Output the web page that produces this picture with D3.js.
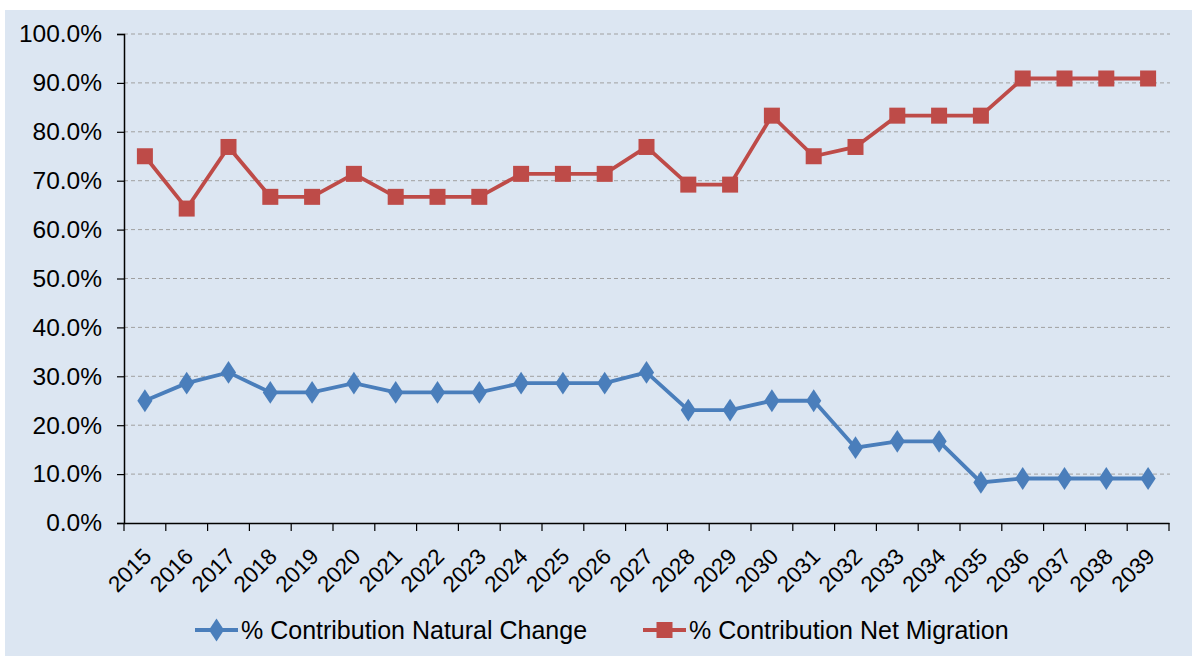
<!DOCTYPE html>
<html><head><meta charset="utf-8">
<script src="https://cdn.jsdelivr.net/npm/d3@7"></script>
<style>html,body{margin:0;padding:0;background:#fff;} text{font-family:"Liberation Sans",Arial,sans-serif;}</style>
</head><body>
<svg id="c" width="1196" height="656"></svg>
<script>
const years = ["2015","2016","2017","2018","2019","2020","2021","2022","2023","2024","2025","2026","2027","2028","2029","2030","2031","2032","2033","2034","2035","2036","2037","2038","2039"];
const naturalChange = [25.0,28.6,30.8,26.7,26.7,28.6,26.7,26.7,26.7,28.6,28.6,28.6,30.8,23.1,23.1,25.0,25.0,15.4,16.7,16.7,8.3,9.1,9.1,9.1,9.1];
const netMigration = [75.0,64.3,76.9,66.7,66.7,71.4,66.7,66.7,66.7,71.4,71.4,71.4,76.9,69.2,69.2,83.3,75.0,76.9,83.3,83.3,83.3,90.9,90.9,90.9,90.9];
const yTicks = [0,10,20,30,40,50,60,70,80,90,100];
const seriesNames = ["% Contribution Natural Change","% Contribution Net Migration"];

const svg = d3.select("#c");
svg.append("rect").attr("x",5).attr("y",10).attr("width",1187).attr("height",646).attr("fill","#dce6f2");

const pLeft=124, pRight=1169, pTop=34, pBottom=523;
const x = d3.scaleBand().domain(years).range([pLeft,pRight]);
const y = d3.scaleLinear().domain([0,100]).range([pBottom,pTop]);

// gridlines
svg.append("g").selectAll("line").data(yTicks.filter(d=>d>0)).join("line")
  .attr("x1",pLeft).attr("x2",pRight+1).attr("y1",d=>y(d)).attr("y2",d=>y(d))
  .attr("stroke","#a0a0a0").attr("stroke-width",1).attr("stroke-dasharray","4,3");

// y axis
const ya = svg.append("g").attr("transform",`translate(${pLeft},0)`)
  .call(d3.axisLeft(y).tickValues(yTicks).tickFormat(d=>d.toFixed(1)+"%").tickSize(7).tickPadding(15));
ya.select(".domain").attr("stroke","#000").attr("stroke-width",1.5);
ya.selectAll(".tick line").attr("stroke","#000").attr("stroke-width",1.2);
ya.selectAll("text").attr("font-size",24.5).attr("fill","#000").attr("font-family","Liberation Sans, Arial, sans-serif");

// x axis
const xa = svg.append("g").attr("transform",`translate(0,${pBottom})`)
  .call(d3.axisBottom(x).tickSize(0).tickFormat(d=>d));
xa.select(".domain").attr("stroke","#000").attr("stroke-width",1.5);
xa.selectAll(".tick text").attr("font-size",22.5).attr("fill","#000")
  .attr("font-family","Liberation Sans, Arial, sans-serif")
  .attr("text-anchor","end").attr("dy",null).attr("y",0)
  .attr("transform","translate(8,35) rotate(-45)");
// boundary ticks
const bounds = years.map(d=>x(d)).concat([pRight]);
svg.append("g").selectAll("line").data(bounds).join("line")
  .attr("x1",d=>d).attr("x2",d=>d).attr("y1",pBottom).attr("y2",pBottom+8)
  .attr("stroke","#000").attr("stroke-width",1.2);

const cx = d => x(d)+x.bandwidth()/2;
const blue="#4a7ebb", red="#be4b48";
const line = d3.line().x((d,i)=>cx(years[i])).y(d=>y(d));

svg.append("path").datum(netMigration).attr("d",line).attr("fill","none").attr("stroke",red).attr("stroke-width",3.8);
svg.append("g").selectAll("rect").data(netMigration).join("rect")
  .attr("x",(d,i)=>cx(years[i])-8).attr("y",d=>y(d)-8).attr("width",16).attr("height",16).attr("fill",red);

svg.append("path").datum(naturalChange).attr("d",line).attr("fill","none").attr("stroke",blue).attr("stroke-width",3.8);
const diamond = d3.symbol().type(d3.symbolDiamond).size(150);
svg.append("g").selectAll("path").data(naturalChange).join("path")
  .attr("d",diamond).attr("transform",(d,i)=>`translate(${cx(years[i])},${y(d)}) scale(1.15,1)`).attr("fill",blue);

// legend
const lg = svg.append("g");
const items = [{name:seriesNames[0],color:blue,shape:"d",x:195},{name:seriesNames[1],color:red,shape:"s",x:643}];
items.forEach(it=>{
  const g = lg.append("g").attr("transform",`translate(${it.x},630)`);
  g.append("line").attr("x1",0).attr("x2",43).attr("stroke",it.color).attr("stroke-width",3.8);
  if(it.shape==="d") g.append("path").attr("d",diamond).attr("transform","translate(21.5,0) scale(1.15,1)").attr("fill",it.color);
  else g.append("rect").attr("x",13.5).attr("y",-8).attr("width",16).attr("height",16).attr("fill",it.color);
  g.append("text").attr("x",46).attr("y",9).attr("font-size",25).attr("fill","#000").text(it.name);
});
</script>
</body></html>
